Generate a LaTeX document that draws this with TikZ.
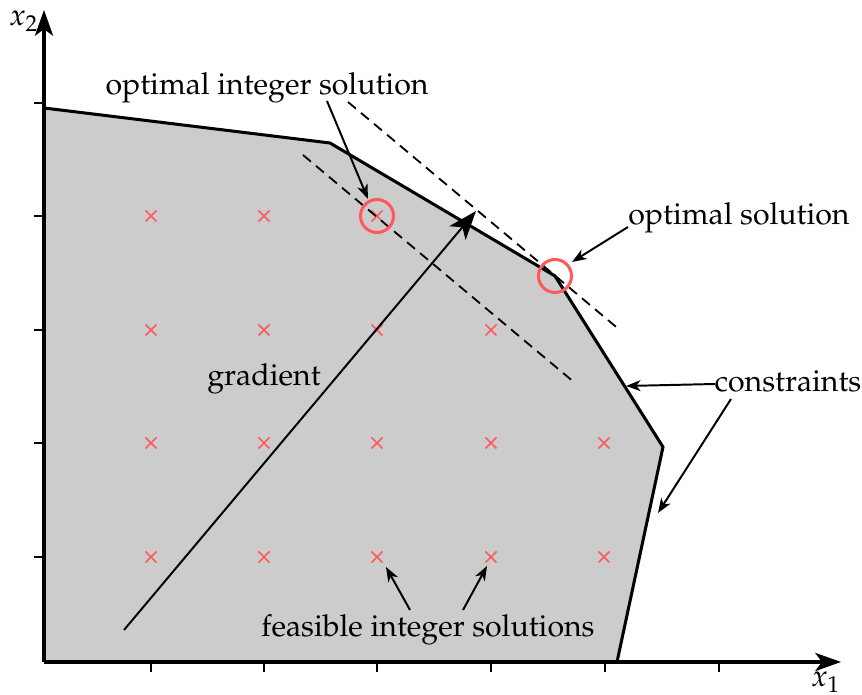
\documentclass[tikz,border=0pt]{standalone}
\usepackage[T1]{fontenc}
\usepackage{mathpazo}
\usetikzlibrary{arrows.meta}
\definecolor{feasgray}{HTML}{CCCCCC}
\definecolor{ptred}{HTML}{FF5A5A}
\tikzset{
  axisline/.style={line width=1pt,-{Stealth[length=8.5pt,width=6pt,inset=2.2pt]}},
  tickline/.style={line width=0.7pt},
  boundline/.style={line width=1pt,line join=miter},
  annarrow/.style={line width=0.65pt,-{Stealth[length=4.8pt,width=3.6pt,inset=1.4pt]}},
  gradarrow/.style={line width=0.65pt,-{Stealth[length=9.5pt,width=7pt,inset=2.5pt]}},
  objline/.style={line width=0.6pt,dash pattern=on 3.4pt off 2.2pt},
  crossmark/.style={ptred,line width=0.55pt},
  optcircle/.style={ptred,line width=1pt},
  lbl/.style={inner sep=0pt,anchor=base,font=\fontsize{10}{12}\selectfont}
}
\begin{document}
\begin{tikzpicture}[x=0.33pt,y=-0.33pt]
\useasboundingbox (0,0) rectangle (862,695);
% corner coordinates
\coordinate (O) at (44,662);
\coordinate (P1) at (44,108);
\coordinate (P2) at (330,143);
\coordinate (P3) at (555,276);
\coordinate (P4) at (663,447);
\coordinate (P5) at (617,662);
\coordinate (xend) at (841,662);
\coordinate (yend) at (44,10);
% feasible region
\fill[feasgray] (O) -- (P1) -- (P2) -- (P3) -- (P4) -- (P5) -- cycle;
% integer points
\foreach \px/\py/\nm in {151/216/a1,264/216/a2,377/216/a3,
  151/330/b1,264/330/b2,377/330/b3,491/330/b4,
  151/443/c1,264/443/c2,377/443/c3,491/443/c4,604/443/c5,
  151/557/d1,264/557/d2,377/557/d3,491/557/d4,604/557/d5}{
  \coordinate (pt-\nm) at (\px,\py);
  \draw[crossmark] ([shift={(-5.5,-5.5)}]pt-\nm) -- ([shift={(5.5,5.5)}]pt-\nm);
  \draw[crossmark] ([shift={(-5.5,5.5)}]pt-\nm) -- ([shift={(5.5,-5.5)}]pt-\nm);
}
% objective lines
\coordinate (d1s) at (303,155);
\coordinate (d1e) at (575,383);
\coordinate (d2s) at (348,102);
\coordinate (d2e) at (621,331);
\draw[objline] (d1s) -- (d1e);
\draw[objline] (d2s) -- (d2e);
% constraints boundary
\draw[boundline] (P1) -- (P2) -- (P3) -- (P4) -- (P5);
% gradient
\coordinate (g0) at (124,630);
\coordinate (g1) at (476,211);
\draw[gradarrow] (g0) -- (g1);
% circles
\node[optcircle,draw,circle,minimum size=33*0.33pt,inner sep=0pt] (intopt) at (pt-a3) {};
\node[optcircle,draw,circle,minimum size=33*0.33pt,inner sep=0pt] (lpopt) at (P3) {};
% axes
\draw[axisline] (O) -- (xend);
\draw[axisline] (O) -- (yend);
\foreach \tx in {151,264,377,491,605,719}{\draw[tickline] (\tx,662) -- (\tx,672);}
\foreach \ty in {557,443,330,216,103}{\draw[tickline] (34,\ty) -- (44,\ty);}
% labels
\node[lbl] (lx2) at (24,26) {$x_2$};
\node[lbl] (lx1) at (826,687) {$x_1$};
\node[lbl] (lint) at (267,95) {optimal integer solution};
\node[lbl] (lopt) at (739,225) {optimal solution};
\node[lbl] (lcon) at (788,392) {constraints};
\node[lbl] (lgrad) at (264,386) {gradient};
\node[lbl] (lfeas) at (428,637) {feasible integer solutions};
% annotation arrows
\coordinate (a1s) at (327,101);
\coordinate (a1e) at (368,199);
\draw[annarrow] (a1s) -- (a1e);
\coordinate (a2s) at (628,227);
\coordinate (a2e) at (572,262);
\draw[annarrow] (a2s) -- (a2e);
\coordinate (a3s) at (715,384);
\coordinate (a3e) at (626,386);
\draw[annarrow] (a3s) -- (a3e);
\coordinate (a4s) at (731,399);
\coordinate (a4e) at (658,513);
\draw[annarrow] (a4s) -- (a4e);
\coordinate (a5s) at (410,610);
\coordinate (a5e) at (386,567);
\draw[annarrow] (a5s) -- (a5e);
\coordinate (a6s) at (463,610);
\coordinate (a6e) at (487,566);
\draw[annarrow] (a6s) -- (a6e);
\end{tikzpicture}
\end{document}
